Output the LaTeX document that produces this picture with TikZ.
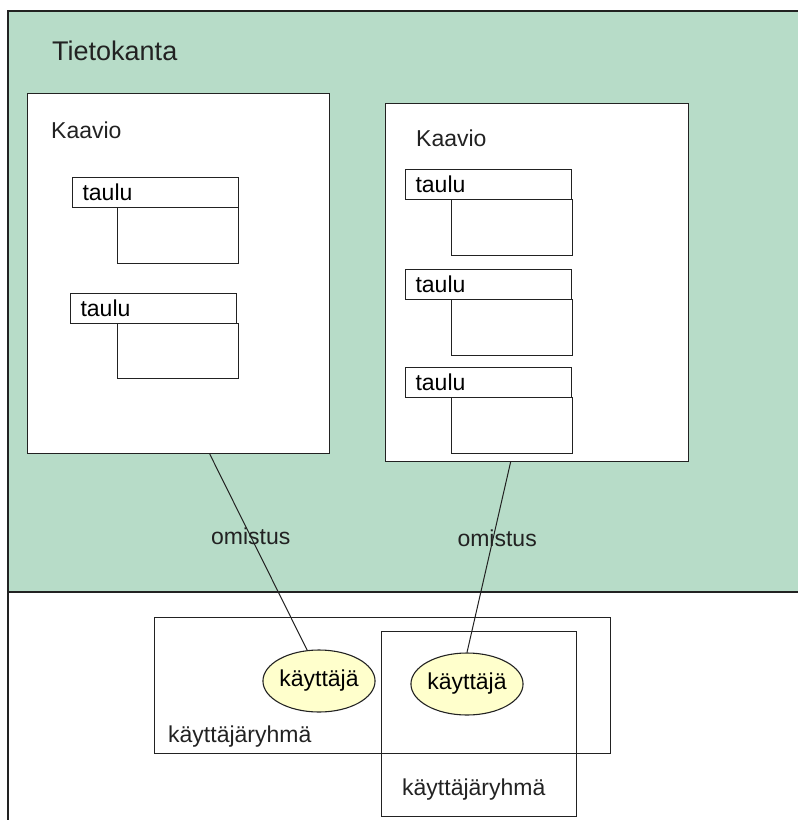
\documentclass[tikz,border=0pt]{standalone}
\usepackage{fontspec}
\setmainfont{Liberation Sans}
\usetikzlibrary{shapes.geometric,calc}

\definecolor{kantavihrea}{HTML}{B7DCC8}
\definecolor{kayttajakeltainen}{HTML}{FFFFCC}
\definecolor{viiva}{HTML}{222222}

\tikzset{
    kaavio/.style={draw=viiva, fill=white, line width=1.1pt, anchor=north west, inner sep=0pt},
    otsikko/.style={draw=viiva, fill=white, line width=1.1pt, anchor=north west,
        minimum width=166pt, minimum height=30pt, text width=146pt, inner xsep=10pt, inner ysep=0pt, align=left},
    runko/.style={draw=viiva, fill=white, line width=1.1pt, anchor=north west, minimum width=121pt, inner sep=0pt},
    kayttaja/.style={ellipse, draw=viiva, fill=kayttajakeltainen, line width=1.1pt,
        minimum width=108pt, minimum height=62pt, inner sep=0pt},
    ryhma/.style={draw=viiva, line width=1.1pt, anchor=north west, inner sep=0pt},
    teksti/.style={anchor=base west, inner sep=0pt, text=viiva}
}

\begin{document}
\begin{tikzpicture}[x=1pt, y=-1pt, font=\fontsize{23}{27}\selectfont]
    \useasboundingbox (0,0) rectangle (798,820);

    % tietokanta: green area and frame
    \fill[kantavihrea] (8,11) rectangle (802,592);
    \draw[viiva, line width=1.4pt] (802,11) -- (8,11) -- (8,822);
    \draw[viiva, line width=1.4pt] (8,592) -- (802,592);
    \node[teksti, font=\fontsize{27}{32}\selectfont] (kanta) at (52,60) {Tietokanta};

    % left kaavio
    \node[kaavio, minimum width=302pt, minimum height=360pt] (kaavio1) at (27,93) {};
    \node[teksti] (kaavio1nimi) at (51,138) {Kaavio};
    \node[runko, minimum height=56pt] (runko11) at (117,207) {};
    \node[otsikko] (taulu11) at (72,177) {taulu};
    \node[runko, minimum height=55pt] (runko12) at (117,323) {};
    \node[otsikko] (taulu12) at (70,293) {taulu};

    % right kaavio
    \node[kaavio, minimum width=303pt, minimum height=358pt] (kaavio2) at (385,103) {};
    \node[teksti] (kaavio2nimi) at (416,146) {Kaavio};
    \foreach \y [count=\i] in {169,269,367} {
        \node[runko, minimum height=56pt] (runko2\i) at (451,\y+30) {};
        \node[otsikko, minimum width=165pt] (taulu2\i) at (405,\y) {taulu};
    }

    % kayttajaryhmat
    \node[ryhma, minimum width=456pt, minimum height=136pt] (ryhma1) at (154,617) {};
    \node[ryhma, minimum width=195pt, minimum height=185pt] (ryhma2) at (381,631) {};
    \node[teksti] (ryhma1nimi) at (168,742) {käyttäjäryhmä};
    \node[teksti] (ryhma2nimi) at (402,795) {käyttäjäryhmä};

    % kayttajat
    \node[kayttaja] (kayttaja1) at (319,681) {käyttäjä};
    \node[kayttaja] (kayttaja2) at (467,684) {käyttäjä};

    % omistus
    \draw[viiva, line width=1pt] ($(kaavio1.south west)!0.603!(kaavio1.south east)$)
        -- node[pos=0.42, inner sep=0pt, text=viiva] (omistus1) {omistus} (kayttaja1.111);
    \draw[viiva, line width=1pt] ($(kaavio2.south west)!0.413!(kaavio2.south east)$)
        -- node[pos=0.40, inner sep=0pt, text=viiva, xshift=4pt] (omistus2) {omistus} (kayttaja2.north);
\end{tikzpicture}
\end{document}
